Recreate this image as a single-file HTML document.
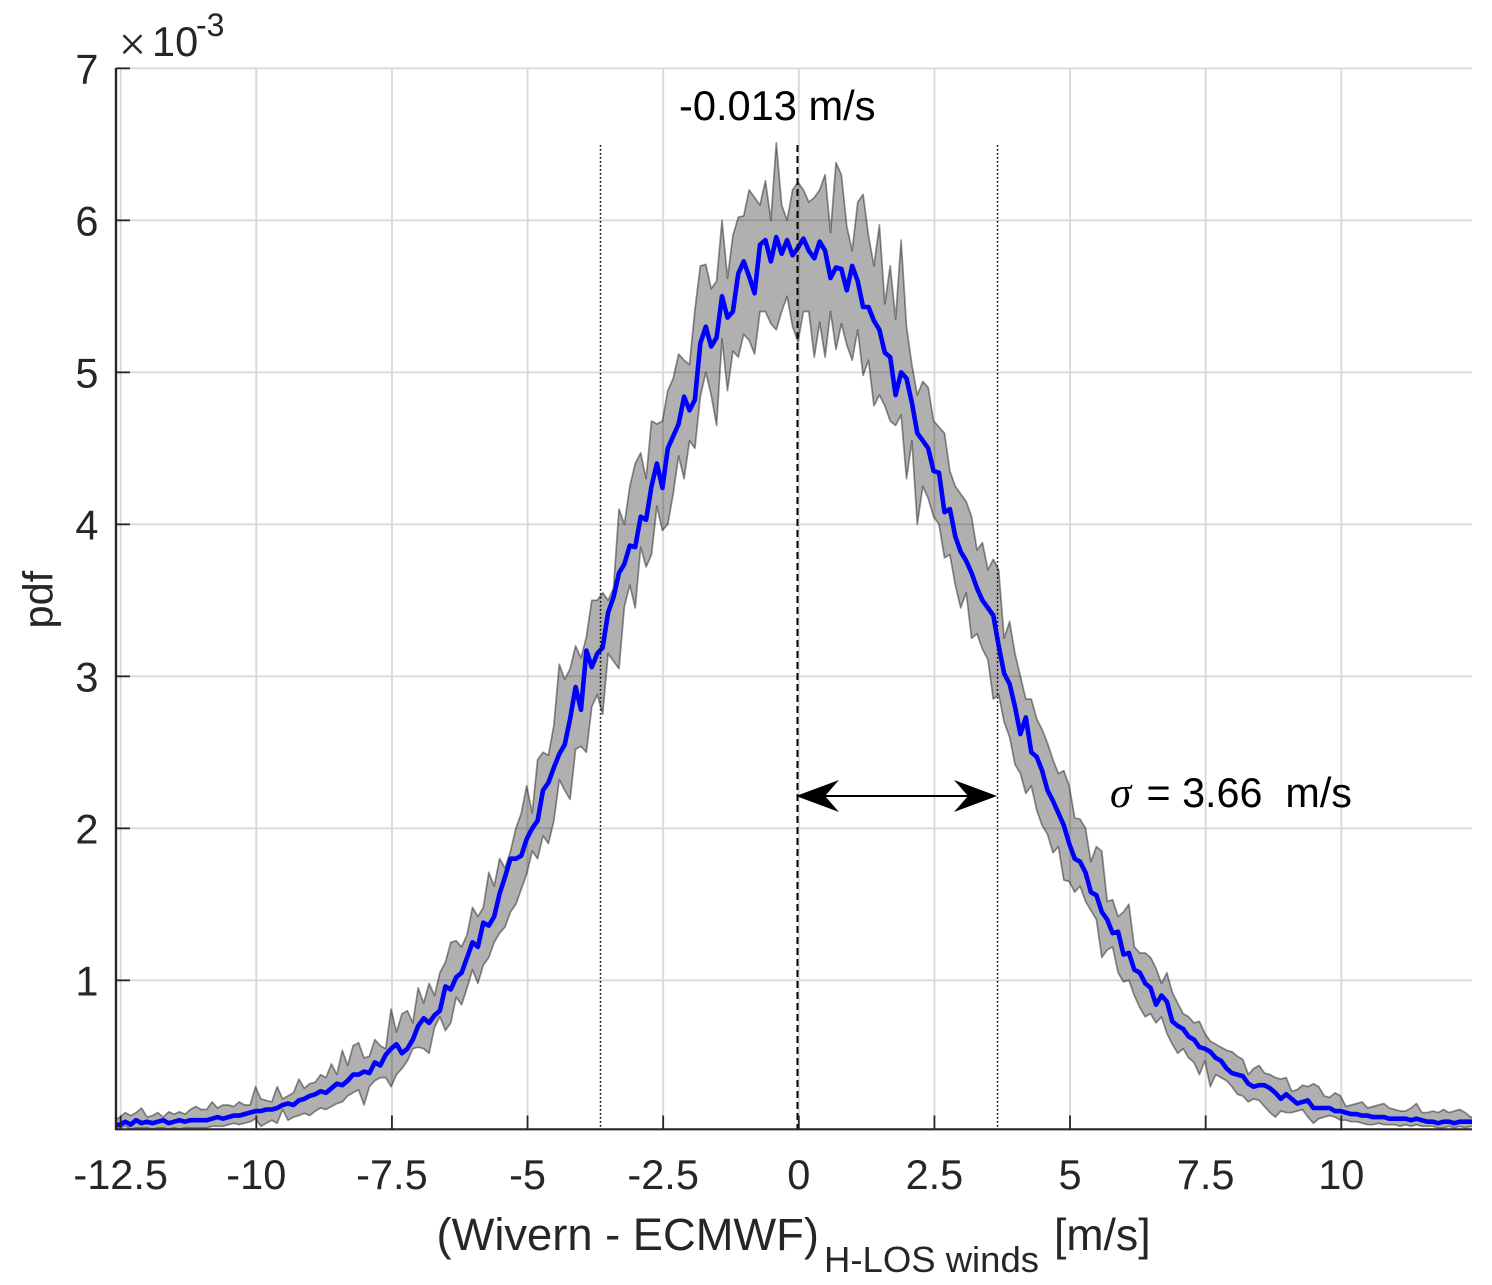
<!DOCTYPE html>
<html lang="en">
<head>
<meta charset="utf-8">
<title>Wivern - ECMWF H-LOS wind difference pdf</title>
<style>
html,body{margin:0;padding:0;background:#fff;}
svg{display:block;}
text{font-family:"Liberation Sans",sans-serif;}
</style>
</head>
<body>
<svg id="chart" xmlns="http://www.w3.org/2000/svg" width="1492" height="1285" viewBox="0 0 1492 1285">
  <defs>
    <clipPath id="plot-clip"><rect x="116" y="68" width="1356" height="1061.3"/></clipPath>
  </defs>
  <g id="grid"></g>
  <g id="marks" clip-path="url(#plot-clip)"></g>
  <g id="refs"></g>
  <g id="axes"></g>

  <text x="132.5" y="60" font-size="47" text-anchor="middle" fill="#262626" stroke="#fff" stroke-width="0.9" paint-order="fill">×</text>
  <text x="152" y="56" font-size="41.5" fill="#262626">10</text>
  <text x="196" y="36" font-size="32" fill="#262626">-3</text>

  <text x="679" y="120" font-size="41.6" fill="#000">-0.013 m/s</text>
  <text x="1110" y="807" font-size="43" font-style="italic" style="font-family:'Liberation Serif',serif" fill="#000">σ</text>
  <text x="1146.5" y="807" font-size="41.3" fill="#000" xml:space="preserve">= 3.66  m/s</text>

  <g>
    <line x1="825" y1="796" x2="970" y2="796" stroke="#000" stroke-width="2"/>
    <polygon points="796,796 839,780 825,796 839,812" fill="#000"/>
    <polygon points="997,796 954,780 968,796 954,812" fill="#000"/>
  </g>

  <text transform="translate(52.5,628.5) rotate(-90)" font-size="41.5" fill="#262626">pdf</text>
  <g>
    <text x="436.5" y="1250" font-size="45.3" fill="#262626">(Wivern - ECMWF)</text>
    <text x="824" y="1272" font-size="36.5" fill="#262626">H-LOS winds</text>
    <text x="1054" y="1250" font-size="44.6" fill="#262626">[m/s]</text>
  </g>
</svg>

<script>
// First bin centre and bin width of the histogram (m/s)
const binStart = -12.615;
const binWidth = 0.1;

// Mean pdf, units of 1e-3
const meanPdf = [
  .05,.05,.07,.05,.08,.06,
  .07,.06,.07,.08,.06,.07,.08,.07,.08,.08,
  .08,.08,.09,.10,.09,.10,.11,.11,.12,.13,
  .14,.14,.15,.15,.16,.18,.19,.18,.21,.22,
  .24,.25,.27,.26,.29,.32,.31,.34,.38,.38,
  .40,.39,.46,.44,.51,.55,.58,.52,.55,.61,
  .70,.75,.72,.77,.80,.96,.94,1.02,1.05,1.15,
  1.25,1.22,1.38,1.36,1.42,1.57,1.68,1.80,1.80,1.82,
  1.93,2.00,2.05,2.25,2.30,2.40,2.49,2.55,2.72,2.93,
  2.78,3.17,3.06,3.15,3.19,3.42,3.52,3.68,3.74,3.86,
  3.85,4.05,4.03,4.25,4.40,4.24,4.50,4.58,4.66,4.84,
  4.75,4.82,5.19,5.30,5.17,5.23,5.50,5.36,5.40,5.65,
  5.73,5.63,5.52,5.84,5.87,5.73,5.89,5.78,5.87,5.77,
  5.82,5.88,5.80,5.75,5.86,5.80,5.62,5.69,5.68,5.54,
  5.70,5.60,5.43,5.43,5.34,5.28,5.13,5.10,4.85,5.00,
  4.96,4.80,4.60,4.55,4.50,4.35,4.34,4.08,4.10,3.92,
  3.82,3.76,3.68,3.58,3.50,3.45,3.40,3.20,3.02,2.95,
  2.80,2.62,2.73,2.50,2.47,2.38,2.25,2.18,2.10,2.02,
  1.90,1.80,1.78,1.71,1.58,1.56,1.45,1.40,1.31,1.32,
  1.17,1.18,1.07,1.05,.98,.95,.84,.90,.86,.73,
  .70,.68,.63,.61,.56,.55,.53,.49,.47,.42,
  .39,.38,.37,.32,.30,.31,.31,.29,.26,.22,
  .25,.22,.19,.20,.21,.16,.16,.16,.16,.14,
  .14,.13,.12,.12,.11,.11,.10,.10,.10,.09,
  .09,.09,.09,.08,.09,.08,.07,.07,.06,.07,
  .07,.06,.07,.07,.07,.07
];

// Upper edge of the grey band, units of 1e-3
const upperPdf = [
  .08,.10,.13,.11,.13,.16,
  .10,.11,.13,.10,.135,.12,.135,.12,.15,.17,
  .15,.15,.20,.16,.18,.18,.17,.20,.18,.18,
  .30,.22,.21,.20,.30,.22,.24,.26,.35,.29,
  .32,.33,.38,.36,.45,.38,.54,.44,.57,.59,
  .49,.50,.61,.57,.55,.81,.66,.78,.80,.72,
  .95,.85,.98,.90,1.05,1.12,1.25,1.26,1.22,1.30,
  1.48,1.42,1.48,1.71,1.62,1.80,1.74,1.85,2.00,2.10,
  2.28,2.10,2.45,2.50,2.48,2.68,3.08,2.98,3.05,3.20,
  3.12,3.26,3.50,3.50,3.55,3.50,3.58,4.10,4.00,4.25,
  4.40,4.47,4.30,4.68,4.66,4.68,4.88,4.96,5.12,5.08,
  5.05,5.41,5.70,5.71,5.55,5.60,6.00,5.62,5.90,6.02,
  6.03,6.20,6.15,6.10,6.26,6.00,6.51,6.10,6.00,6.20,
  6.25,6.20,6.12,6.15,6.20,6.30,5.92,6.38,6.30,5.96,
  5.80,6.12,6.17,5.90,5.70,5.97,5.45,5.70,5.35,5.87,
  5.30,5.05,4.85,4.94,4.90,4.68,4.64,4.60,4.35,4.25,
  4.20,4.15,4.05,3.83,3.88,3.70,3.77,3.70,3.25,3.36,
  3.15,3.00,2.85,2.85,2.72,2.65,2.56,2.45,2.36,2.38,
  2.28,2.07,2.06,2.00,1.78,1.88,1.85,1.52,1.53,1.42,
  1.45,1.50,1.22,1.18,1.18,1.15,1.08,.98,1.05,.92,
  .85,.78,.76,.72,.73,.65,.60,.58,.56,.54,
  .53,.50,.48,.38,.42,.44,.39,.38,.36,.35,
  .36,.27,.28,.31,.30,.32,.30,.24,.23,.26,
  .24,.17,.18,.19,.20,.16,.17,.18,.19,.16,
  .15,.14,.14,.16,.19,.13,.13,.14,.13,.15,
  .13,.14,.15,.13,.10,.10
];

// Lower edge of the grey band, units of 1e-3
const lowerPdf = [
  .03,.03,.04,.02,.03,.03,
  .03,.02,.03,.03,.02,.03,.02,.03,.03,.03,
  .03,.03,.04,.04,.04,.05,.06,.05,.06,.07,
  .09,.04,.06,.08,.06,.15,.08,.10,.11,.125,
  .11,.14,.16,.15,.17,.19,.20,.24,.26,.28,
  .18,.30,.34,.36,.36,.30,.38,.42,.47,.55,
  .56,.55,.52,.69,.76,.67,.72,.89,.84,.95,
  1.07,.98,1.10,1.15,1.25,1.31,1.35,1.45,1.50,1.60,
  1.70,1.85,1.80,1.95,1.90,2.05,2.32,2.25,2.19,2.52,
  2.54,2.50,2.80,2.88,2.75,3.15,3.10,3.05,3.46,3.60,
  3.45,3.85,3.72,3.80,4.12,3.96,4.00,4.20,4.45,4.30,
  4.55,4.50,4.84,5.00,4.85,4.65,5.22,4.88,5.14,5.10,
  5.25,5.21,5.12,5.40,5.40,5.32,5.28,5.40,5.50,5.30,
  5.20,5.40,5.40,5.10,5.33,5.10,5.40,5.15,5.32,5.18,
  5.08,5.28,4.98,5.08,4.78,4.85,4.78,4.68,4.65,4.72,
  4.30,4.55,4.00,4.25,4.17,4.05,4.00,3.78,3.80,3.60,
  3.45,3.55,3.25,3.28,3.18,3.11,2.85,2.88,2.70,2.60,
  2.42,2.36,2.23,2.28,2.12,2.02,1.96,1.84,1.88,1.66,
  1.65,1.58,1.62,1.52,1.46,1.40,1.15,1.20,1.22,1.05,
  .99,1.00,.90,.82,.76,.78,.72,.76,.65,.58,
  .52,.55,.49,.46,.38,.47,.30,.38,.36,.34,
  .30,.25,.24,.20,.22,.21,.17,.13,.10,.14,
  .13,.13,.14,.15,.10,.06,.09,.10,.11,.10,
  .08,.08,.07,.07,.06,.05,.05,.06,.05,.05,
  .05,.04,.05,.04,.05,.04,.04,.04,.03,.03,
  .04,.03,.04,.03,.04,.03
];

// Axis ticks and their printed labels
const xTicks = [-12.5,-10,-7.5,-5,-2.5,0,2.5,5,7.5,10];
const xTickLabels = ['-12.5','-10','-7.5','-5','-2.5','0','2.5','5','7.5','10'];
const yTicks = [1,2,3,4,5,6,7];
const yTickLabels = ['1','2','3','4','5','6','7'];

// Annotated statistics (m/s)
const meanLine = [-0.013];
const sigmaLines = [-3.655, 3.663];

const NS = 'http://www.w3.org/2000/svg';
function xScale(v){ return 798.8 + 54.25 * v; }
function yScale(v){ return 1129.3 - (v - 0.02) * 152; }
function mk(parent, tag, attrs){
  const el = document.createElementNS(NS, tag);
  for (const k in attrs) el.setAttribute(k, attrs[k]);
  parent.appendChild(el);
  return el;
}
const gGrid = document.getElementById('grid');
const gMarks = document.getElementById('marks');
const gRefs = document.getElementById('refs');
const gAxes = document.getElementById('axes');
const tickInk = '#262626';

xTicks.forEach(function(t, i){
  const x = xScale(t);
  const g = mk(gGrid, 'line', {x1:x, x2:x, y1:68, y2:1129, stroke:'#d9d9d9', 'stroke-width':1.9});
  
  
  const tk = mk(gAxes, 'line', {x1:x, x2:x, y1:1115.5, y2:1129, stroke:tickInk, 'stroke-width':1.8});
  
  
  const lb = mk(gAxes, 'text', {x:x, y:1189, 'font-size':41.5, 'text-anchor':'middle', fill:tickInk});
  
  
  lb.textContent = xTickLabels[i];
});
yTicks.forEach(function(t, i){
  const y = yScale(t);
  const g = mk(gGrid, 'line', {x1:116, x2:1472, y1:y, y2:y, stroke:'#d9d9d9', 'stroke-width':1.9});
  
  
  const tk = mk(gAxes, 'line', {x1:116, x2:130, y1:y, y2:y, stroke:tickInk, 'stroke-width':1.8});
  
  
  const lb = mk(gAxes, 'text', {x:98.5, y:y + 15, 'font-size':41.5, 'text-anchor':'end', fill:tickInk});
  
  
  lb.textContent = yTickLabels[i];
});

function binX(i){ return xScale(binStart + binWidth * i); }
function linePoints(arr){
  return arr.map(function(v, i){ return binX(i).toFixed(1) + ',' + yScale(v).toFixed(1); }).join(' ');
}
const upperPts = upperPdf.map(function(v, i){ return binX(i).toFixed(1) + ',' + yScale(v).toFixed(1); });
const lowerPts = lowerPdf.map(function(v, i){ return binX(i).toFixed(1) + ',' + yScale(v).toFixed(1); }).reverse();

const band = mk(gMarks, 'polygon', {points: upperPts.concat(lowerPts).join(' '), fill:'rgba(0,0,0,0.31)', stroke:'rgba(0,0,0,0.42)', 'stroke-width':1.7, 'stroke-linejoin':'round'});



const meanCurve = mk(gMarks, 'polyline', {points: linePoints(meanPdf), fill:'none', stroke:'#0000ff', 'stroke-width':4.6, 'stroke-linejoin':'round', 'stroke-linecap':'round'});



meanLine.forEach(function(v){
  const x = xScale(v) - 0.6;
  const l = mk(gRefs, 'line', {x1:x, x2:x, y1:145, y2:1129, stroke:'#000', 'stroke-width':2, 'stroke-dasharray':'7 4'});
  
  
});
sigmaLines.forEach(function(v){
  const x = xScale(v);
  const l = mk(gRefs, 'line', {x1:x, x2:x, y1:145, y2:1129, stroke:'#000', 'stroke-width':1.5, 'stroke-dasharray':'1.6 2.4'});
  
  
});

const xAxis = mk(gAxes, 'line', {x1:115, x2:1472, y1:1129.3, y2:1129.3, stroke:tickInk, 'stroke-width':2.2});


const yAxis = mk(gAxes, 'line', {x1:116, x2:116, y1:68, y2:1130, stroke:tickInk, 'stroke-width':2.4});


</script>
</body>
</html>
